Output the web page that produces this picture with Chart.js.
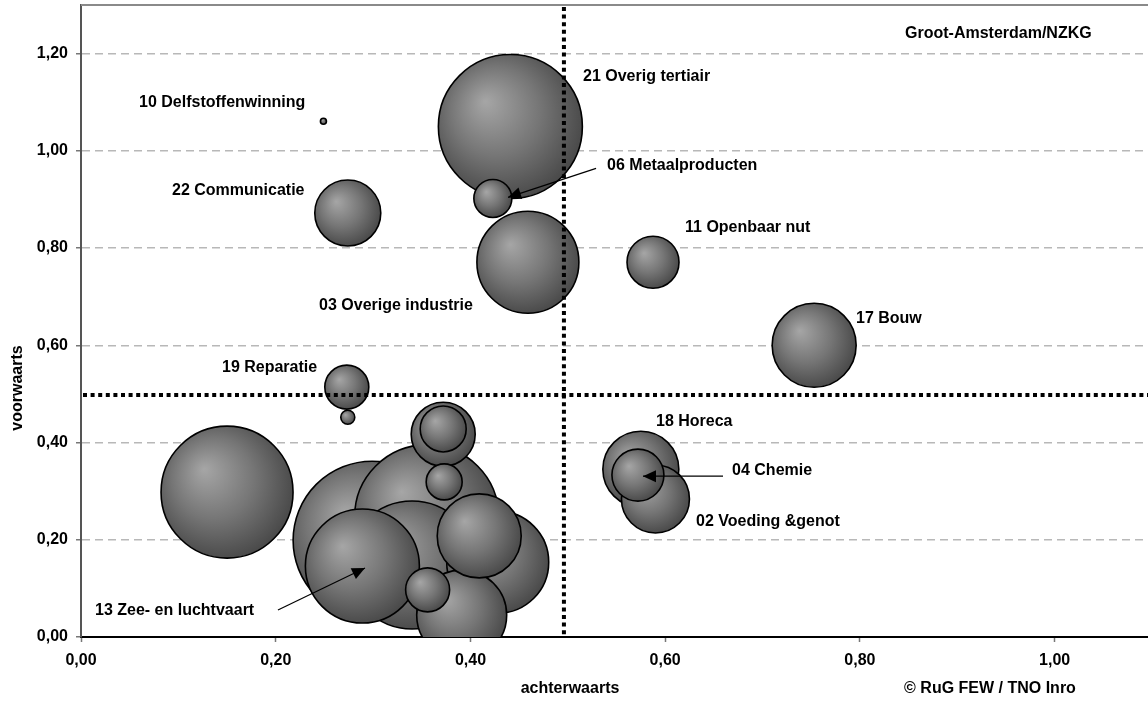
<!DOCTYPE html>
<html>
<head>
<meta charset="utf-8">
<script src="https://cdn.jsdelivr.net/npm/chart.js@4.4.1/dist/chart.umd.min.js"></script>
<style>
html,body{margin:0;padding:0;background:#fff;overflow:hidden;}
#wrap{position:relative;width:1153px;height:704px;}
</style>
</head>
<body>
<div id="wrap"><canvas id="c"></canvas></div>
<script>
// ---- data (sorted large -> small so small bubbles are drawn on top) ----
const sectorNames = ['', '21 Overig tertiair', '', '', '', '13 Zee- en luchtvaart', '03 Overige industrie', '', '',
  '17 Bouw', '', '18 Horeca', '02 Voeding &genot', '22 Communicatie', '', '04 Chemie', '11 Openbaar nut', '',
  '', '19 Reparatie', '06 Metaalproducten', '', '', '10 Delfstoffenwinning'];
const achterwaarts = [0.299, 0.441, 0.355, 0.150, 0.340, 0.289, 0.459, 0.428, 0.391,
  0.753, 0.409, 0.575, 0.590, 0.274, 0.372, 0.572, 0.5875, 0.372,
  0.356, 0.273, 0.423, 0.373, 0.274, 0.249];
const voorwaarts = [0.199, 1.050, 0.247, 0.298, 0.148, 0.146, 0.771, 0.154, 0.045,
  0.600, 0.208, 0.345, 0.284, 0.872, 0.417, 0.333, 0.771, 0.428,
  0.097, 0.514, 0.902, 0.319, 0.452, 1.061];
const bubbleSize = [79, 72, 72, 66, 64, 57, 51, 51, 45,
  42, 42, 38, 34, 33, 32, 26, 26, 23,
  22, 22, 19, 18, 7, 3];

const xTicks = [0, 0.2, 0.4, 0.6, 0.8, 1.0];
const yTicks = [0, 0.2, 0.4, 0.6, 0.8, 1.0, 1.2];
const refAchterwaarts = 0.496;
const refVoorwaarts = 0.498;

// annotation texts (anchored in data units: left edge, vertical middle)
const labelTexts = ['10 Delfstoffenwinning', '22 Communicatie', '21 Overig tertiair', '06 Metaalproducten',
  '11 Openbaar nut', '03 Overige industrie', '17 Bouw', '19 Reparatie', '18 Horeca', '04 Chemie',
  '02 Voeding &genot', '13 Zee- en luchtvaart'];
const labelX = [0.0596, 0.0935, 0.5156, 0.5403, 0.6204, 0.2445, 0.796, 0.1448, 0.5906, 0.6687, 0.6317, 0.0144];
const labelY = [1.0997, 0.9188, 1.1531, 0.9702, 0.8428, 0.6824, 0.6557, 0.555, 0.444, 0.3433, 0.2364, 0.0534];

// arrows: from (x0,y0) to tip (x1,y1)
const arrowFromX = [0.529, 0.2023, 0.6594];
const arrowFromY = [0.964, 0.0555, 0.3309];
const arrowToX = [0.4386, 0.2917, 0.5772];
const arrowToY = [0.9044, 0.1418, 0.3309];

const FONT = '"Liberation Sans", Arial, sans-serif';
const fmt = v => Number(v).toFixed(2).replace('.', ',');

const points = achterwaarts.map((v, i) => ({x: v, y: voorwaarts[i], r: bubbleSize[i], name: sectorNames[i]}));

function bubbleFill(ctx) {
  const chart = ctx.chart;
  if (ctx.type !== 'data' || !chart.chartArea) return '#777777';
  const p = ctx.raw;
  const cx = chart.scales.x.getPixelForValue(p.x);
  const cy = chart.scales.y.getPixelForValue(p.y);
  const r = p.r;
  const g = chart.ctx.createRadialGradient(cx - r * 0.35, cy - r * 0.35, 0, cx - r * 0.1, cy - r * 0.1, r * 1.12);
  g.addColorStop(0, '#a6a6a6');
  g.addColorStop(0.55, '#767676');
  g.addColorStop(1, '#4a4a4a');
  return g;
}

function drawArrow(c, x0, y0, x1, y1) {
  c.beginPath(); c.moveTo(x0, y0); c.lineTo(x1, y1); c.stroke();
  const ang = Math.atan2(y1 - y0, x1 - x0);
  const L = 13, W = 6;
  c.beginPath();
  c.moveTo(x1, y1);
  c.lineTo(x1 - L * Math.cos(ang) + W * Math.sin(ang), y1 - L * Math.sin(ang) - W * Math.cos(ang));
  c.lineTo(x1 - L * Math.cos(ang) - W * Math.sin(ang), y1 - L * Math.sin(ang) + W * Math.cos(ang));
  c.closePath(); c.fill();
}

const overlay = {
  id: 'overlay',
  afterDatasetsDraw(chart) {
    const {ctx, chartArea: a, scales: {x, y}} = chart;
    ctx.save();
    // reference lines (dotted)
    ctx.strokeStyle = '#000'; ctx.lineWidth = 4; ctx.setLineDash([4, 3.6]);
    const rx = x.getPixelForValue(refAchterwaarts);
    ctx.beginPath(); ctx.moveTo(rx, a.top + 2); ctx.lineTo(rx, a.bottom); ctx.stroke();
    const ry = y.getPixelForValue(refVoorwaarts);
    ctx.beginPath(); ctx.moveTo(a.left + 2, ry); ctx.lineTo(a.right, ry); ctx.stroke();
    ctx.setLineDash([]);
    // top border of plot area
    ctx.strokeStyle = '#8a8a8a'; ctx.lineWidth = 2;
    ctx.beginPath(); ctx.moveTo(a.left, a.top); ctx.lineTo(a.right, a.top); ctx.stroke();
    // arrows
    ctx.strokeStyle = '#000'; ctx.fillStyle = '#000'; ctx.lineWidth = 1.2;
    for (let i = 0; i < arrowFromX.length; i++) {
      drawArrow(ctx, x.getPixelForValue(arrowFromX[i]), y.getPixelForValue(arrowFromY[i]),
        x.getPixelForValue(arrowToX[i]), y.getPixelForValue(arrowToY[i]));
    }
    // labels
    ctx.font = 'bold 16px ' + FONT;
    ctx.fillStyle = '#000'; ctx.textAlign = 'left'; ctx.textBaseline = 'middle';
    for (let i = 0; i < labelTexts.length; i++) {
      ctx.fillText(labelTexts[i], x.getPixelForValue(labelX[i]), y.getPixelForValue(labelY[i]));
    }
    ctx.restore();
  },
  afterDraw(chart) {
    const {ctx} = chart;
    ctx.save();
    ctx.font = 'bold 16px ' + FONT;
    ctx.fillStyle = '#000'; ctx.textBaseline = 'middle'; ctx.textAlign = 'left';
    ctx.fillText('Groot-Amsterdam/NZKG', 905, 34);
    ctx.textAlign = 'center';
    ctx.fillText('achterwaarts', 570, 689);
    ctx.fillText('\u00A9 RuG FEW / TNO Inro', 990, 689);
    ctx.translate(18, 388); ctx.rotate(-Math.PI / 2);
    ctx.fillText('voorwaarts', 0, 0);
    ctx.restore();
  }
};

new Chart(document.getElementById('c'), {
  type: 'bubble',
  data: {
    datasets: [{
      label: 'sectoren',
      data: points,
      backgroundColor: bubbleFill,
      borderColor: '#000',
      borderWidth: 1.6,
      hoverBorderWidth: 1.6,
      clip: 0
    }]
  },
  plugins: [overlay],
  options: {
    responsive: true,
    maintainAspectRatio: false,
    animation: false,
    events: [],
    layout: {autoPadding: false, padding: {top: 5, right: 1, left: 0, bottom: 0}},
    plugins: {legend: {display: false}, tooltip: {enabled: false}, title: {display: false}},
    scales: {
      x: {
        type: 'linear', min: 0, max: 1.1,
        afterBuildTicks: s => { s.ticks = xTicks.map(v => ({value: v})); },
        afterFit: s => { s.height = 67; s.paddingLeft = 0; s.paddingRight = 0; },
        ticks: {callback: fmt, color: '#000', padding: 9, maxRotation: 0, autoSkip: false,
          font: {family: FONT, size: 16, weight: 'bold'}},
        grid: {display: true, drawOnChartArea: false, drawTicks: true, tickLength: 5, tickColor: '#777', tickWidth: 1.5},
        border: {display: true, color: '#000', width: 2}
      },
      y: {
        type: 'linear', min: 0, max: 1.3,
        afterBuildTicks: s => { s.ticks = yTicks.map(v => ({value: v})); },
        afterFit: s => { s.width = 81; s.paddingTop = 0; s.paddingBottom = 0; },
        ticks: {callback: fmt, color: '#000', padding: 8, autoSkip: false,
          font: {family: FONT, size: 16, weight: 'bold'}},
        grid: {
          color: c => (c.tick && c.tick.value === 0) ? 'rgba(0,0,0,0)' : '#b8b8b8',
          lineWidth: 1.5, drawTicks: true, tickLength: 5, tickColor: '#777', tickWidth: 1.5
        },
        border: {display: true, color: '#555', width: 2, dash: [8, 5]}
      }
    }
  }
});
</script>
</body>
</html>
